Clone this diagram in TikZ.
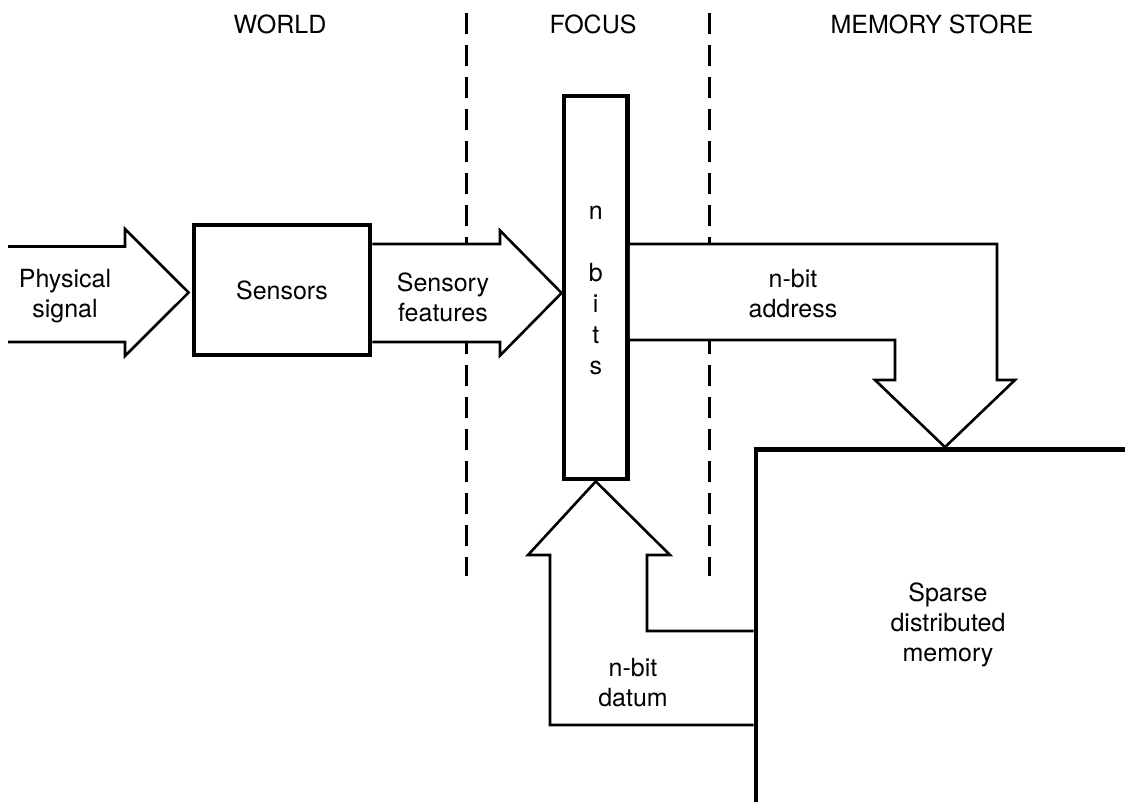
\documentclass[tikz,border=0pt]{standalone}
\usepackage{fontspec}
\setmainfont{TeX Gyre Heros}
\usetikzlibrary{calc}
\begin{document}
\begin{tikzpicture}[x=1pt,y=-1pt,
  thickbox/.style={draw,line width=4.8pt,inner sep=0pt},
  lbl/.style={font=\fontsize{25}{30}\selectfont,align=center,inner sep=0pt},
  dashline/.style={line width=2.6pt,dash pattern=on 21pt off 11pt},
  blockarrow/.style={line width=2.6pt,fill=white,line join=miter}]
\useasboundingbox (0,0) rectangle (1125,801);
\clip (0,0) rectangle (1125,801);
% dashed separators
\coordinate (d1top) at (466.5,13);
\coordinate (d1bot) at (466.5,576);
\coordinate (d2top) at (709.5,13);
\coordinate (d2bot) at (709.5,576);
\draw[dashline] (d1top) -- (d1bot);
\draw[dashline] (d2top) -- (d2bot);
% boxes
\node[thickbox,lbl,minimum width=176pt,minimum height=130pt] (sensors) at (282,290) {Sensors};
\node[thickbox,minimum width=63.5pt,minimum height=383pt] (focus) at (595.75,287.5) {};
\node[thickbox,anchor=north west,minimum width=500pt,minimum height=500pt] (memory) at (753.6,447.1) {};
% block arrows
\coordinate (p1tip) at ($(sensors.west)+(-3,2.5)$);
\draw[blockarrow] (8,246.5) -- (125,246.5) -- (125,229) -- (p1tip) -- (125,356) -- (125,342) -- (8,342);
\draw[blockarrow] (sensors.east |- 0,244) -- (500,244) -- (500,230.5) -- (focus.west |- 0,293) -- (500,355.5) -- (500,342) -- (sensors.east |- 0,342);
\coordinate (atip) at ($(memory.north west)+(191.4,0)$);
\draw[blockarrow] (focus.east |- 0,244) -- (997,244) -- (997,380) -- (1015,380) -- (atip) -- (875,380) -- (895,380) -- (895,340) -- (focus.east |- 0,340);
\draw[blockarrow] (memory.west |- 0,631) -- (647,631) -- (647,555) -- (670,555) -- (focus.south) -- (528,555) -- (550,555) -- (550,725) -- (memory.west |- 0,725);
% labels
\node[lbl] (world) at (280,24) {WORLD};
\node[lbl] (focuslbl) at (593,24) {FOCUS};
\node[lbl] (memlbl) at (932,24) {MEMORY STORE};
\node[lbl,font=\fontsize{25}{31}\selectfont] (bits) at (595.75,290) {n\\[31pt]b\\i\\t\\s};
\node[lbl] (phys) at (65,296) {Physical\\signal};
\node[lbl] (sensf) at (443,297) {Sensory\\features};
\node[lbl] (addr) at (793,294) {n-bit\\address};
\node[lbl] (datum) at (633,683) {n-bit\\datum};
\node[lbl] (sdm) at (948,625) {Sparse\\distributed\\memory};
\end{tikzpicture}
\end{document}
